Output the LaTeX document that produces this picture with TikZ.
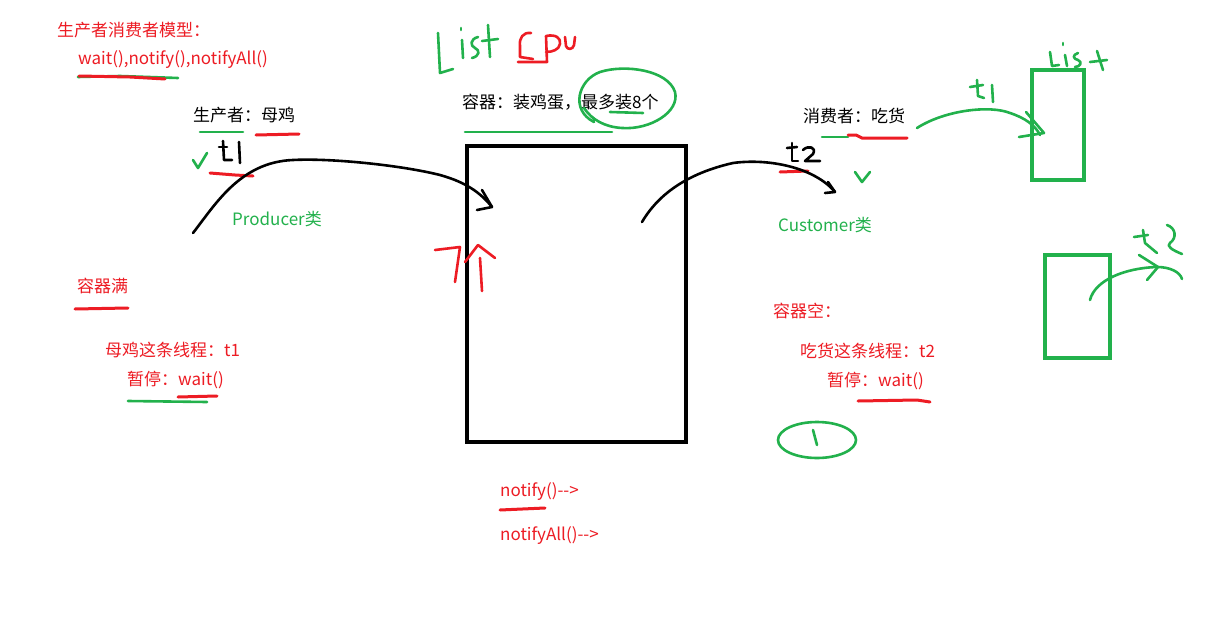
\documentclass[tikz,border=0pt]{standalone}
\usepackage{fontspec}
\setmainfont{Noto Sans CJK SC}
\begin{document}
\definecolor{pred}{RGB}{237,28,36}
\definecolor{pgreen}{RGB}{34,177,76}
\begin{tikzpicture}[x=1pt,y=-1pt,
  txt/.style={anchor=west,inner sep=0pt,font=\fontsize{17}{20}\selectfont},
  redtxt/.style={txt,text=pred},
  greentxt/.style={txt,text=pgreen},
  pen/.style={line width=2.6pt,line cap=round,line join=round},
  blackpen/.style={pen,black},
  greenpen/.style={pen,pgreen},
  redpen/.style={pen,pred},
  mark red/.style={line width=3pt,pred,line cap=round},
  mark green/.style={line width=2.6pt,pgreen,line cap=round}]
\useasboundingbox (0,0) rectangle (1227,640);
\fill[white] (0,0) rectangle (1227,640);

% ---- texts ----
\node[redtxt] (title) at (57,30) {生产者消费者模型：};
\node[redtxt] (methods) at (78,60) {wait(),notify(),notifyAll()};
\node[txt] (producer) at (193,115) {生产者：母鸡};
\node[greentxt] (pcls) at (232,219) {Producer类};
\node[txt] (container) at (462,102) {容器：装鸡蛋，最多装8个};
\node[txt] (consumer) at (803,116) {消费者：吃货};
\node[greentxt] (ccls) at (778,225) {Customer类};
\node[redtxt] (full) at (77,286) {容器满};
\node[redtxt] (hen) at (105,350) {母鸡这条线程：t1};
\node[redtxt] (wait1) at (127,380) {暂停：wait()};
\node[redtxt] (empty) at (773,311) {容器空：};
\node[redtxt] (eater) at (800,351) {吃货这条线程：t2};
\node[redtxt] (wait2) at (827,381) {暂停：wait()};
\node[redtxt] (notify) at (500,492) {notify()-\kern0pt-\kern0pt>};
\node[redtxt] (notifyall) at (500,536) {notifyAll()-\kern0pt-\kern0pt>};

% ---- containers ----
\node[draw,line width=4pt,minimum width=219pt,minimum height=296pt,inner sep=0pt]
  (box) at (576.5,294) {};
\node[draw=pgreen,line width=3.5pt,minimum width=52pt,minimum height=110pt,inner sep=0pt]
  (list1) at (1058,125) {};
\node[draw=pgreen,line width=3.5pt,minimum width=65pt,minimum height=103pt,inner sep=0pt]
  (list2) at (1077.5,306.5) {};

% ---- underlines ----
\draw[mark green] (78,77) -- (120,76) -- (178,78);
\draw[mark red] (79,76) -- (130,77) -- (165,79);
\draw[mark green] (200,132) -- (243,132);
\draw[mark red] (256,135) -- (299,134);
\draw[mark red] (210,173) -- (235,175) -- (253,176);
\draw[mark green] (465,132) -- (612,132);
\draw[mark green] (610,112) -- (643,113);
\draw[mark green] (822,137) -- (848,137);
\draw[mark red] (848,135) -- (856,135) -- (862,138) -- (907,138);
\draw[mark red] (780,172) -- (808,171);
\draw[mark red] (75,309) -- (128,308);
\draw[mark green] (128,401) -- (207,402);
\draw[mark red] (178,397) -- (217,396);
\draw[mark red] (858,401) -- (917,400) -- (930,402);
\draw[mark red] (500,510) -- (545,508);

% ---- rings ----
\draw[greenpen] (594,122) .. controls (570,110) and (578,80) .. (600,72)
  .. controls (625,64) and (668,70) .. (675,92)
  .. controls (680,112) and (650,130) .. (622,128)
  .. controls (605,127) and (592,120) .. (584,108);
\draw[greenpen] (817,440) ellipse [x radius=39pt, y radius=18pt];
\draw[greenpen] (813,430) -- (817,445);

% ---- checks ----
\draw[greenpen] (193,160) -- (198,168) -- (207,153);
\draw[greenpen] (855,172) -- (862,182) -- (870,172);

% ---- handwriting: t1, t2 ----
\draw[blackpen] (223,141) -- (224,160) -- (232,160);
\draw[blackpen] (219,147) -- (227,147);
\draw[blackpen] (239,142) -- (240,163);
\draw[blackpen] (792,143) -- (792,161) -- (798,161);
\draw[blackpen] (787,148) -- (797,147);
\draw[blackpen] (803,150) .. controls (808,145) and (817,147) .. (813,154)
  -- (805,161) -- (820,161);

% ---- handwriting: List cpu ----
\draw[greenpen] (438,33) -- (440,73) -- (453,69);
\draw[greenpen] (462,40) -- (463,58);
\draw[greenpen] (461,28) -- (461,30);
\draw[greenpen] (478,37) .. controls (470,39) and (470,46) .. (475,48)
  .. controls (480,50) and (480,56) .. (472,58);
\draw[greenpen] (488,25) -- (490,57);
\draw[greenpen] (482,41) -- (498,39);
\draw[redpen] (531,33) .. controls (523,32) and (519,38) .. (520,46)
  -- (520,57) -- (533,59);
\draw[redpen] (518,62) -- (547,62) -- (546,36) .. controls (556,34) and (561,38) .. (560,44)
  .. controls (559,50) and (552,52) .. (546,52);
\draw[redpen] (565,37) -- (566,46) .. controls (567,50) and (573,50) .. (574,45) -- (575,37);

% ---- handwriting: list, t1, t2 (green) ----
\draw[greenpen] (1050,52) -- (1052,66) -- (1059,65);
\draw[greenpen] (1065,55) -- (1067,66);
\draw[greenpen] (1063,43) -- (1063,45);
\draw[greenpen] (1078,53) .. controls (1072,55) and (1073,59) .. (1078,60)
  .. controls (1083,62) and (1080,67) .. (1075,67);
\draw[greenpen] (1097,51) -- (1103,70);
\draw[greenpen] (1090,62) -- (1107,60);
\draw[greenpen] (977,80) -- (978,96) -- (984,98);
\draw[greenpen] (970,87) -- (983,85);
\draw[greenpen] (992,85) -- (993,102);
\draw[greenpen] (1143,230) -- (1145,243) -- (1157,253);
\draw[greenpen] (1134,237) -- (1148,235);
\draw[greenpen] (1167,225) .. controls (1176,228) and (1177,238) .. (1170,243)
  .. controls (1166,246) and (1172,250) .. (1182,254);

% ---- red 7个 beside the container ----
\draw[redpen] (435,250) -- (460,247) -- (455,282);
\draw[redpen] (465,262) -- (478,245) -- (495,258);
\draw[redpen] (480,258) -- (482,291);

% ---- thread arrows ----
\coordinate (pa) at (193,233);
\coordinate (ca) at (642,222);
\coordinate (ga) at (917,128);
\coordinate (gb) at (1090,300);
\draw[blackpen] (pa) .. controls (215,205) and (240,162) .. (293,160)
  .. controls (330,158) and (400,165) .. (440,175)
  .. controls (465,182) and (480,192) .. (492,207);
\draw[blackpen] (482,190) -- (492,207) -- (477,210);
\draw[blackpen] (ca) .. controls (655,200) and (680,175) .. (733,163)
  .. controls (770,158) and (815,168) .. (835,192);
\draw[blackpen] (828,182) -- (835,192) -- (825,193);
\draw[greenpen] (ga) .. controls (945,110) and (990,105) .. (1010,113)
  .. controls (1025,118) and (1035,125) .. (1040,135);
\draw[greenpen] (1026,112) -- (1044,133) -- (1019,137);
\draw[greenpen] (gb) .. controls (1095,280) and (1125,268) .. (1157,267)
  .. controls (1170,267) and (1180,272) .. (1182,279);
\draw[greenpen] (1139,255) -- (1158,267) -- (1147,280);
\end{tikzpicture}
\end{document}
